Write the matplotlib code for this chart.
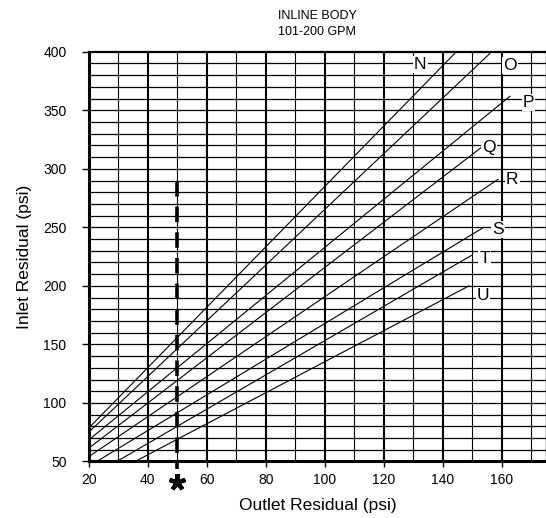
import matplotlib
matplotlib.use('Agg')
import matplotlib.pyplot as plt

plt.rcParams['font.family'] = ['Liberation Sans', 'DejaVu Sans']

# curve labels and end points (outlet psi, inlet psi)
names = ['N', 'O', 'P', 'Q', 'R', 'S', 'T', 'U']
x_start = [20, 20, 20, 20, 20, 22.7, 29.5, 35.7]
y_start = [78.5, 75, 68.4, 61.3, 54.1, 50, 50, 50]
x_end = [144.6, 156.6, 162.8, 154, 158.7, 153.9, 149.7, 148.9]
y_end = [400, 400, 362, 320, 291, 250, 226, 200]
# label positions
label_x = [132.4, 162.7, 169.1, 155.7, 163.6, 158.7, 154.2, 153.6]
label_y = [389, 388, 357, 318.5, 291.3, 247.8, 223.3, 191.9]

x_ticks = [20, 40, 60, 80, 100, 120, 140, 160]
y_ticks = [50, 100, 150, 200, 250, 300, 350, 400]

dash_x = 50
dash_top = 290
dash_bottom = 44

fig = plt.figure(figsize=(5.46, 5.18), dpi=100)
ax = fig.add_axes([0.1625, 0.1091, 0.8375, 0.791])
ax.set_xlim(20, 175)
ax.set_ylim(50, 400)

# grid
for gx in range(30, 176, 10):
    lw = 1.5 if gx % 20 == 0 else 0.8
    ax.axvline(gx, color='black', linewidth=lw, zorder=1)
for gy in range(60, 400, 10):
    ax.axhline(gy, color='black', linewidth=0.9, zorder=1)

for i in range(len(names)):
    ax.plot([x_start[i], x_end[i]], [y_start[i], y_end[i]], color='black', linewidth=0.8, zorder=2)
    ax.text(label_x[i], label_y[i], names[i], fontsize=12.5, ha='center', va='center', zorder=4,
            bbox=dict(facecolor='white', edgecolor='none', pad=0.8))

ax.plot([dash_x, dash_x], [dash_top, dash_bottom], color='black', linewidth=2.6,
        dashes=(4.3, 2.8), clip_on=False, zorder=3)
ax.plot([dash_x], [32.5], marker=(5, 2, 0), markersize=12, markeredgewidth=3,
        color='black', clip_on=False)

ax.set_xticks(x_ticks)
ax.set_yticks(y_ticks)
ax.tick_params(axis='y', length=5, width=1, pad=11, labelsize=10)
ax.tick_params(axis='x', length=4, width=1, pad=4, labelsize=10)

ax.spines['left'].set_linewidth(2.2)
ax.spines['bottom'].set_linewidth(2.2)
ax.spines['top'].set_linewidth(1.6)
ax.spines['right'].set_linewidth(1.0)

ax.set_xlabel('Outlet Residual (psi)', fontsize=12.5, labelpad=8)
ax.set_ylabel('Inlet Residual (psi)', fontsize=12.5, labelpad=8)
ax.set_title('INLINE BODY\n101-200 GPM', fontsize=9, pad=12, linespacing=1.45)

fig.savefig('out.png', dpi=100)
